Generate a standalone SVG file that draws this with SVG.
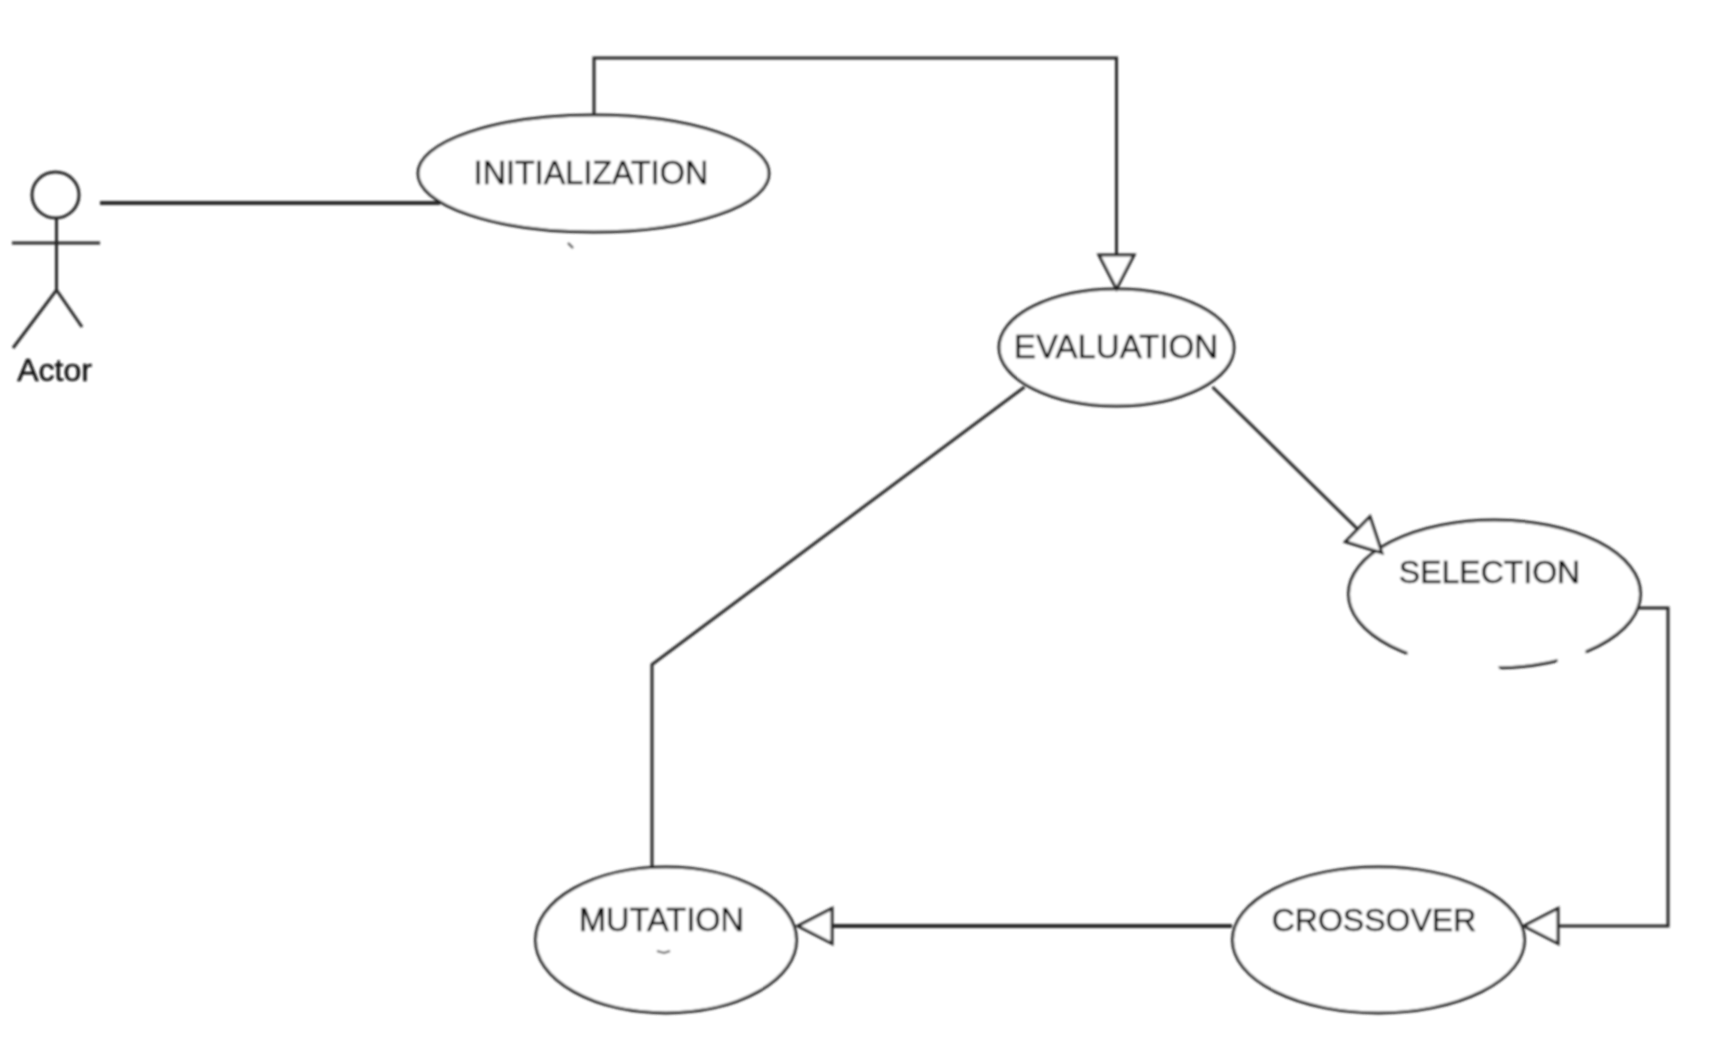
<svg xmlns="http://www.w3.org/2000/svg" width="1725" height="1037" viewBox="0 0 1725 1037">
<style>
.shape{fill:#fff;stroke:#262626;stroke-width:3}
.stick{fill:none;stroke:#262626;stroke-width:3}
.conn{fill:none;stroke:#262626;stroke-width:3;stroke-linejoin:miter}
.thick{stroke-width:4}
.assoc{marker-end:url(#hollow)}
.label{font-family:"Liberation Sans",Arial,sans-serif;font-size:32px;fill:#111;stroke:#111;stroke-width:0.500;text-anchor:middle}
.patch{fill:#fff;stroke:none}
.smudge{fill:none;stroke:#555;stroke-width:2}
</style>
<defs>
<filter id="soft" x="0" y="0" width="1725" height="1037" filterUnits="userSpaceOnUse" primitiveUnits="userSpaceOnUse"><feGaussianBlur stdDeviation="0.9"/></filter>
<marker id="hollow" markerUnits="userSpaceOnUse" markerWidth="40" markerHeight="44" viewBox="0 0 40 44" refX="37" refY="22" orient="auto">
<path d="M3 4.500 L37 22 L3 39.500 Z" fill="#fff" stroke="#262626" stroke-width="3"/>
</marker>
</defs>
<rect width="1725" height="1037" fill="#fff"/>
<g filter="url(#soft)">
<g id="actor">
<ellipse class="stick" cx="55.500" cy="195" rx="23.500" ry="23"/>
<path class="stick" d="M56.500 218V290M12 243H100M13 348L56.500 290L82 327"/>
<text class="label" x="54.500" y="381" style="font-size:32px">Actor</text>
</g>
<g id="initialization">
<ellipse class="shape" cx="593.500" cy="173.500" rx="175.500" ry="58.500"/>
<text class="label" x="591" y="184" style="font-size:32.300px">INITIALIZATION</text>
<path class="smudge" d="M568 243L573 248"/>
</g>
<g id="evaluation">
<ellipse class="shape" cx="1116.500" cy="347.500" rx="117.500" ry="58.500"/>
<text class="label" x="1116" y="358" style="font-size:33px">EVALUATION</text>
</g>
<g id="selection">
<ellipse class="shape" cx="1494.500" cy="594" rx="146" ry="74"/>
<path class="patch" d="M1407.500 650L1495.500 660L1501.500 674L1407.500 674ZM1557.500 648L1585.500 646L1585.500 672L1557.500 672Z"/>
<text class="label" x="1489.500" y="583" style="font-size:32px">SELECTION</text>
</g>
<g id="crossover">
<ellipse class="shape" cx="1378.500" cy="940" rx="146" ry="73"/>
<text class="label" x="1374" y="930.500" style="font-size:32px">CROSSOVER</text>
</g>
<g id="mutation">
<ellipse class="shape" cx="666" cy="940" rx="130.500" ry="73"/>
<text class="label" x="661.500" y="930.500" style="font-size:32.500px">MUTATION</text>
<path class="smudge" d="M657 951L664 953L670 951"/>
</g>
<g id="connectors">
<path class="conn thick" d="M100 203H440"/>
<path class="conn assoc" d="M594 116V58H1116.500V289"/>
<path class="conn" d="M1024.500 387L652 664.500V869"/>
<path class="conn assoc" d="M1212.500 387L1382 553"/>
<path class="conn assoc" d="M1639 608H1668V926H1524"/>
<path class="conn thick assoc" d="M1232 926H798"/>
</g>
</g>
</svg>
